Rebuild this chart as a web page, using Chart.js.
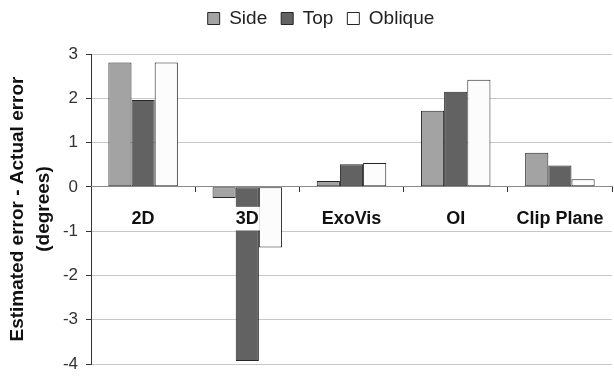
<!DOCTYPE html>
<html>
<head>
<meta charset="utf-8">
<script src="https://cdn.jsdelivr.net/npm/chart.js@4.4.1/dist/chart.umd.min.js"></script>
<style>
html,body{margin:0;padding:0;background:#fff;}
#wrap{width:614px;height:377px;position:relative;}
</style>
</head>
<body>
<div id="wrap"><canvas id="c"></canvas></div>
<script>
const categories = ["2D", "3D", "ExoVis", "OI", "Clip Plane"];
const seriesNames = ["Side", "Top", "Oblique"];
const sideValues = [2.81, -0.25, 0.13, 1.72, 0.77];
const topValues = [1.96, -3.93, 0.51, 2.15, 0.48];
const obliqueValues = [2.81, -1.37, 0.54, 2.42, 0.17];
const yTicks = [3, 2, 1, 0, -1, -2, -3, -4];
const yTitle = ["Estimated error - Actual error", "(degrees)"];

const FONT = "'Liberation Sans', Arial, sans-serif";

const legendTweak = {
  id: 'legendTweak',
  beforeInit(chart) {
    const orig = chart.legend.fit;
    chart.legend.fit = function () {
      orig.call(this);
      this.height = 54;
    };
  },
  afterLayout(chart) {
    const lg = chart.legend;
    lg.left += 15; lg.right += 15;
    lg.top -= 5;
  }
};

const ds = (label, data, color) => ({
  label, data,
  backgroundColor: color,
  borderColor: '#262626',
  borderWidth: 1,
  borderSkipped: false,
  categoryPercentage: 0.667,
  barPercentage: 1.0
});

new Chart(document.getElementById('c'), {
  type: 'bar',
  data: {
    labels: categories,
    datasets: [
      ds(seriesNames[0], sideValues, '#a3a3a3'),
      ds(seriesNames[1], topValues, '#626262'),
      ds(seriesNames[2], obliqueValues, '#fcfcfc')
    ]
  },
  options: {
    responsive: true,
    maintainAspectRatio: false,
    animation: false,
    layout: { padding: { left: 0, right: 2, top: 0, bottom: 13 } },
    plugins: {
      legend: {
        position: 'top',
        labels: {
          boxWidth: 12, boxHeight: 12, padding: 14,
          color: '#222',
          font: { family: FONT, size: 19 }
        }
      },
      tooltip: { enabled: false }
    },
    scales: {
      x: {
        position: { y: 0 },
        afterFit(scale) { scale.paddingLeft = 0; scale.paddingRight = 0; },
        grid: { offset: true, drawOnChartArea: false, drawTicks: true, tickLength: 5, color: '#333', z: 1 },
        border: { display: true, color: '#8a8a8a', width: 1, z: 1 },
        ticks: {
          z: 1,
          autoSkip: false,
          color: '#111',
          padding: 16,
          font: { family: FONT, size: 18, weight: 'bold' },
          showLabelBackdrop: true,
          backdropColor: '#ffffff',
          backdropPadding: { top: 1, bottom: 1, left: 1, right: 1 },
          maxRotation: 0
        }
      },
      y: {
        min: Math.min(...yTicks),
        max: Math.max(...yTicks),
        afterFit(scale) { scale.width = 91; scale.paddingTop = 0; scale.paddingBottom = 0; },
        afterBuildTicks(scale) { scale.ticks = yTicks.map(v => ({ value: v })); },
        grid: { color: '#c8c8c8', lineWidth: 1, tickLength: 5, tickColor: '#333', drawTicks: true },
        border: { display: true, color: '#333', width: 1 },
        ticks: {
          stepSize: 1,
          color: '#333',
          padding: 8,
          font: { family: FONT, size: 17 }
        },
        title: {
          display: true,
          text: yTitle,
          color: '#111',
          padding: { top: 4, bottom: 2 },
          font: { family: FONT, size: 19, weight: 'bold', lineHeight: 1.4 }
        }
      }
    }
  },
  plugins: [legendTweak]
});
</script>
</body>
</html>
